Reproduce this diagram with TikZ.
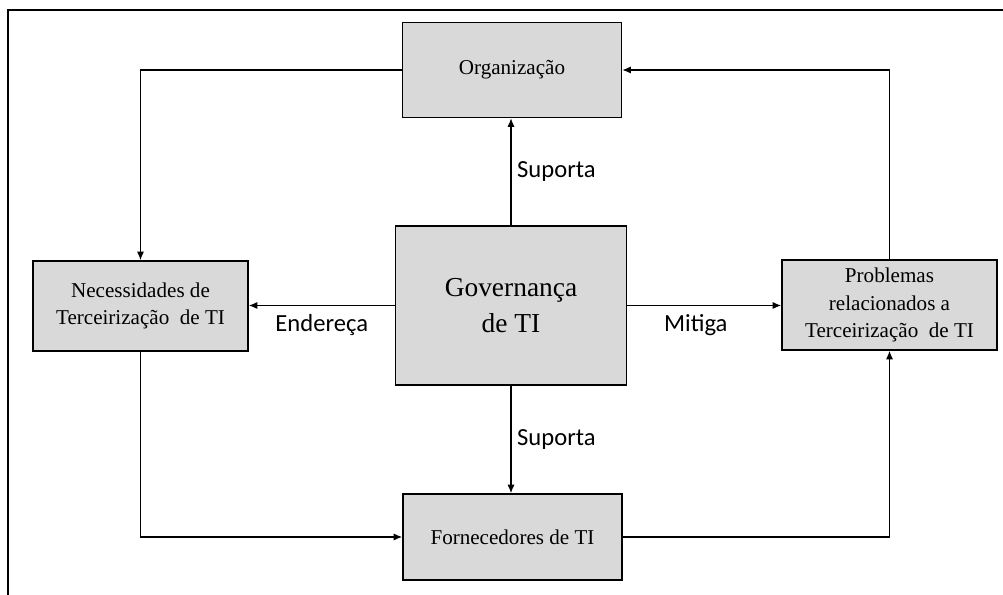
\documentclass[tikz,border=0pt]{standalone}
\usepackage{fontspec}
\setmainfont{Liberation Serif}
\newfontfamily\lblfont{Carlito}
\usepackage{tikz}
\usetikzlibrary{positioning, arrows.meta}
\usepackage{xcolor}
\definecolor{boxgray}{RGB}{217, 217, 217}

\begin{document}
\begin{tikzpicture}[
    govbox/.style={draw=black, line width=1.2pt, fill=boxgray, align=center,
                   inner sep=0pt, font=\fontsize{15}{19.5}\selectfont},
    flow/.style={-{Latex[length=6pt, width=5pt]}, line width=0.8pt},
    rel/.style={font=\lblfont\fontsize{17.5}{20}\selectfont, inner sep=4pt}
  ]
        \useasboundingbox (0,0) rectangle (25.075, 14.875);
        % frame
        \draw[line width=1.4pt] (0.2, 0) -- (0.2, 14.625) -- (25.075, 14.625);

        % boxes
        \node[govbox, minimum width=5.775cm, minimum height=3.975cm,
              font=\fontsize{19.5}{25}\selectfont]
              (gov) at (12.775, 7.2375) {Governança\\de TI};
        \node[govbox, minimum width=5.475cm, minimum height=2.375cm]
              (org) at (12.8, 13.125) {Organização};
        \node[govbox, minimum width=5.375cm, minimum height=2.25cm]
              (nec) at (3.5125, 7.225) {Necessidades de\\Terceirização\ \ de TI};
        \node[govbox, minimum width=5.375cm, minimum height=2.25cm]
              (prob) at (22.2375, 7.25)
              {Problemas\\relacionados a\\Terceirização\ \ de TI};
        \node[govbox, minimum width=5.475cm, minimum height=2.15cm]
              (forn) at (12.8125, 1.45) {Fornecedores de TI};

        % relations from the centre
        \draw[flow] (gov.north) -- (gov.north |- org.south)
              node[rel, midway, right] {Suporta};
        \draw[flow] (gov.south) -- (gov.south |- forn.north)
              node[rel, midway, right] {Suporta};
        \draw[flow] (gov.west) -- (gov.west -| nec.east)
              node[rel, midway, below, yshift=-2pt] {Endereça};
        \draw[flow] (gov.east) -- (gov.east -| prob.west)
              node[rel, midway, below, yshift=-2pt, xshift=-6pt] {Mitiga};

        % outer cycle
        \draw[flow] (org.west) -| (nec.north);
        \draw[flow] (nec.south) |- (forn.west);
        \draw[flow] (forn.east) -| (prob.south);
        \draw[flow] (prob.north) |- (org.east);
\end{tikzpicture}
\end{document}
